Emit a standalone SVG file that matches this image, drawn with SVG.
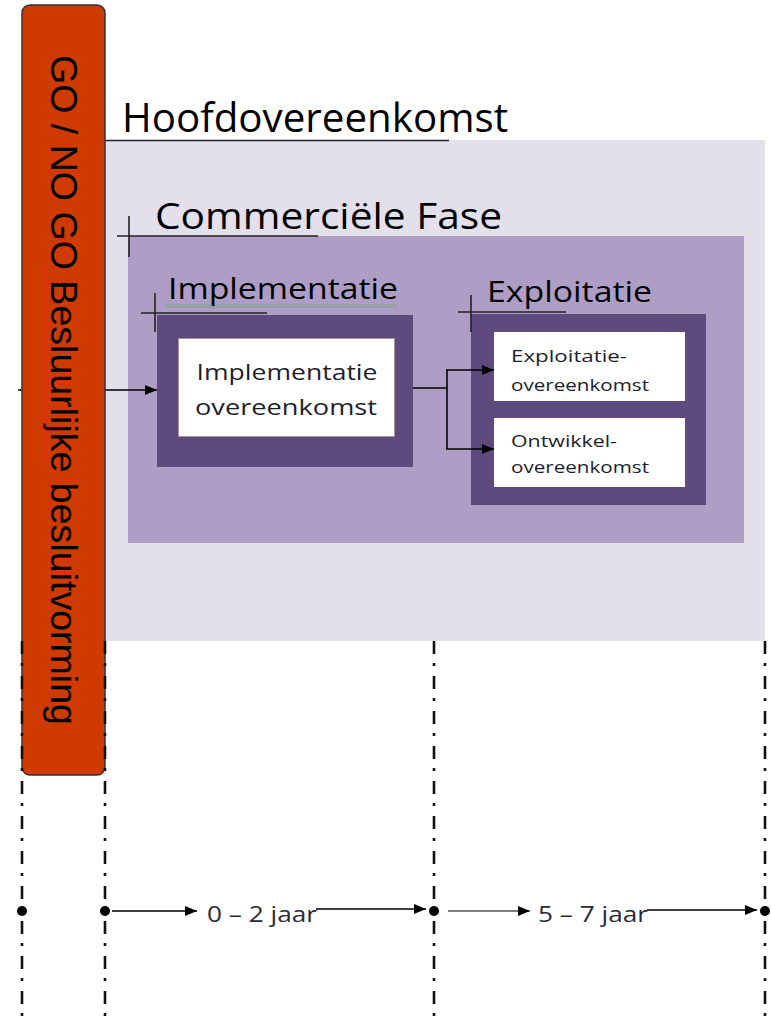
<svg xmlns="http://www.w3.org/2000/svg" width="771" height="1026" viewBox="0 0 771 1026">
<style>
.head{font-family:"Open Sans","Liberation Sans",sans-serif;fill:#000}
.box{font-family:"Open Sans","Liberation Sans",sans-serif;fill:#1e1e2a}
.tl{font-family:"Open Sans","Liberation Sans",sans-serif;fill:#2a2a3a;font-size:21px}
.rule{stroke:#222;stroke-width:1.6;fill:none}
.conn{stroke:#000;stroke-width:1.6;fill:none}
.dd{stroke:#111;stroke-width:2.6;stroke-dasharray:13 9 3 10;fill:none}
.dot{fill:#000}
</style>
<defs>
<marker id="ah" markerUnits="userSpaceOnUse" markerWidth="12" markerHeight="10" refX="12" refY="5" orient="auto">
<path d="M0 0 L12 5 L0 10 Z" fill="#000"/>
</marker>
<pattern id="wavyG" width="4" height="3" patternUnits="userSpaceOnUse">
<path d="M0 2.5 L2 0.5 L4 2.5" stroke="#3aa83a" stroke-width="0.9" fill="none"/>
</pattern>
<pattern id="wavyR" width="3" height="4" patternUnits="userSpaceOnUse">
<path d="M2.5 0 L0.5 2 L2.5 4" stroke="#ff2020" stroke-width="0.9" fill="none"/>
</pattern>
</defs>

<g id="hoofdovereenkomst">
<rect x="105" y="140" width="660" height="501" fill="#E3DFEB"/>
<text class="head" x="122" y="132" font-size="40" textLength="386" lengthAdjust="spacingAndGlyphs">Hoofdovereenkomst</text>
<line class="rule" x1="105" y1="140.5" x2="449" y2="140.5"/>
</g>

<g id="commerciele-fase">
<rect x="128" y="236" width="616" height="307" fill="#AE9EC6"/>
<text class="head" x="155" y="229" font-size="36" textLength="347" lengthAdjust="spacingAndGlyphs">Commerciële Fase</text>
<line class="rule" x1="117" y1="236" x2="318" y2="236"/>
<line class="rule" x1="129" y1="216" x2="129" y2="257"/>
</g>

<g id="implementatie">
<rect x="157" y="315" width="256" height="152" fill="#5E4A7C"/>
<text class="head" x="168" y="299" font-size="30" textLength="230" lengthAdjust="spacingAndGlyphs">Implementatie</text>
<rect x="166" y="304.5" width="232" height="3" fill="url(#wavyG)"/>
<line class="rule" x1="141" y1="313" x2="267" y2="313"/>
<line class="rule" x1="155" y1="293" x2="155" y2="332"/>
</g>

<g id="implementatie-overeenkomst">
<rect x="178.5" y="338.5" width="216" height="98" fill="#fff" stroke="#999" stroke-width="1"/>
<text class="box" x="287" y="380" font-size="22" text-anchor="middle" textLength="181" lengthAdjust="spacingAndGlyphs">Implementatie</text>
<text class="box" x="286" y="415" font-size="22" text-anchor="middle" textLength="182" lengthAdjust="spacingAndGlyphs">overeenkomst</text>
</g>

<g id="exploitatie">
<rect x="471" y="314" width="235" height="191" fill="#5E4A7C"/>
<text class="head" x="487" y="302" font-size="29" textLength="165" lengthAdjust="spacingAndGlyphs">Exploitatie</text>
<line class="rule" x1="458" y1="312" x2="566" y2="312"/>
<line class="rule" x1="471" y1="295" x2="471" y2="332"/>
</g>

<g id="exploitatie-overeenkomst">
<rect x="494" y="332" width="191" height="69" fill="#fff"/>
<text class="box" x="511" y="362" font-size="17" textLength="116" lengthAdjust="spacingAndGlyphs">Exploitatie-</text>
<text class="box" x="511" y="391" font-size="17" textLength="138" lengthAdjust="spacingAndGlyphs">overeenkomst</text>
</g>

<g id="ontwikkel-overeenkomst">
<rect x="494" y="418" width="191" height="69" fill="#fff"/>
<text class="box" x="511" y="447" font-size="17" textLength="106" lengthAdjust="spacingAndGlyphs">Ontwikkel-</text>
<text class="box" x="511" y="473" font-size="17" textLength="138" lengthAdjust="spacingAndGlyphs">overeenkomst</text>
</g>

<g id="connectors">
<line class="conn" x1="18" y1="390" x2="157" y2="390" marker-end="url(#ah)"/>
<polyline class="conn" points="413,388 447,388"/>
<polyline class="conn" points="447,370 447,449"/>
<line class="conn" x1="446" y1="370" x2="494" y2="370" marker-end="url(#ah)"/>
<line class="conn" x1="446" y1="449" x2="494" y2="449" marker-end="url(#ah)"/>
</g>

<g id="go-no-go">
<rect x="22" y="5" width="83" height="770" rx="8" fill="#CF3A00" stroke="#333" stroke-width="1.5"/>
<text class="head" x="51" y="55" font-size="37" transform="rotate(90 51 55)" textLength="670" lengthAdjust="spacingAndGlyphs" style="font-family:'Liberation Sans',Arial,sans-serif">GO / NO GO Besluurlijke besluitvorming</text>
<rect x="43.5" y="265" width="3" height="195" fill="url(#wavyR)"/>
</g>

<g id="timeline">
<line class="dd" x1="22" y1="641" x2="22" y2="1026"/>
<line class="dd" x1="105" y1="641" x2="105" y2="1026"/>
<line class="dd" x1="434" y1="641" x2="434" y2="1026"/>
<line class="dd" x1="765" y1="641" x2="765" y2="1026"/>
<circle class="dot" cx="22" cy="911" r="5"/>
<circle class="dot" cx="105" cy="911" r="5"/>
<circle class="dot" cx="434" cy="911" r="5"/>
<circle class="dot" cx="765" cy="911" r="5"/>
<line class="conn" x1="112" y1="911" x2="197" y2="911" marker-end="url(#ah)"/>
<text class="tl" x="207" y="922" textLength="110" lengthAdjust="spacingAndGlyphs">0 – 2 jaar</text>
<line class="conn" x1="316" y1="909" x2="426" y2="909" marker-end="url(#ah)"/>
<line x1="448" y1="911" x2="530" y2="911" stroke="#808080" stroke-width="2.2" marker-end="url(#ah)"/>
<text class="tl" x="538" y="922" textLength="110" lengthAdjust="spacingAndGlyphs">5 – 7 jaar</text>
<line class="conn" x1="647" y1="910" x2="757" y2="910" marker-end="url(#ah)"/>
</g>
</svg>
